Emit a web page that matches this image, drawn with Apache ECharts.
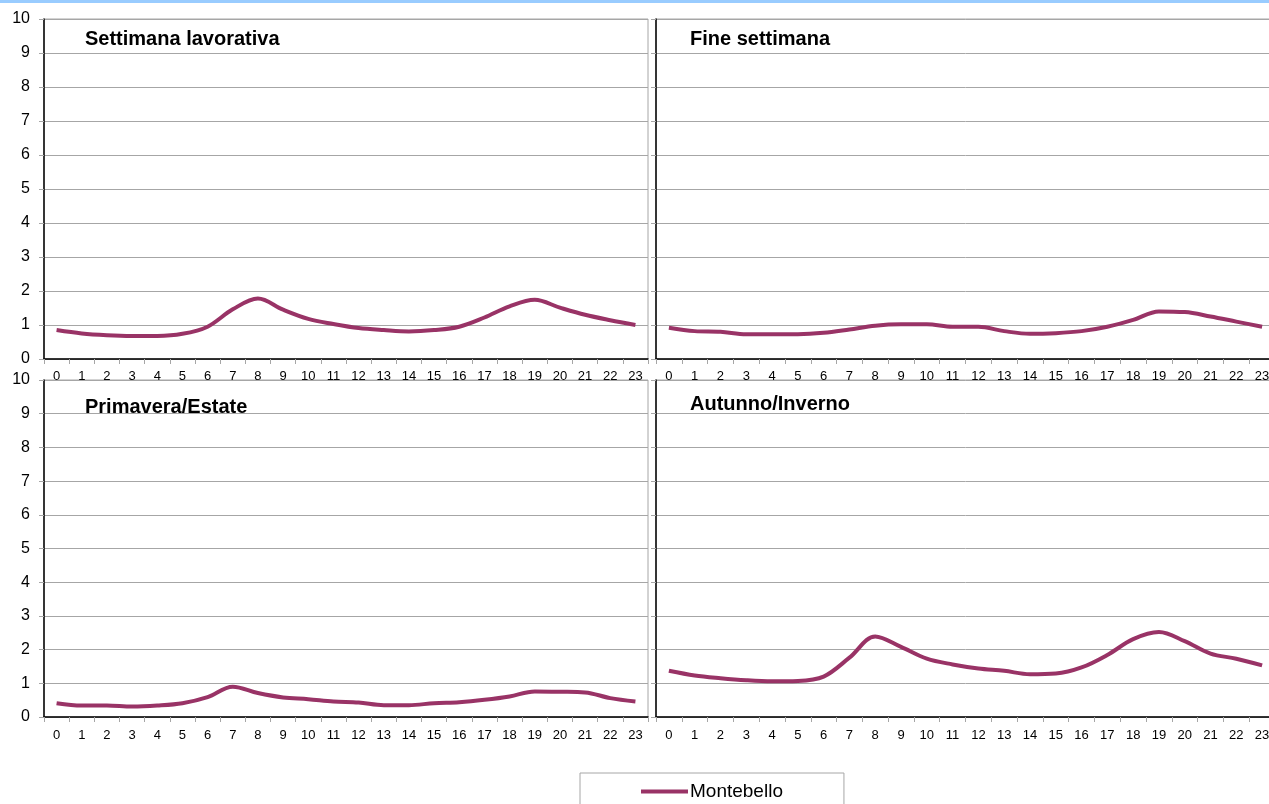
<!DOCTYPE html>
<html>
<head>
<meta charset="utf-8">
<script src="https://cdn.jsdelivr.net/npm/echarts@6/dist/echarts.min.js"></script>
<style>
html,body{margin:0;padding:0;background:#fff;overflow:hidden;width:1269px;height:804px;}
#c{width:1276px;height:804px;}
</style>
</head>
<body>
<div id="c"></div>
<script>
const hours = ['0','1','2','3','4','5','6','7','8','9','10','11','12','13','14','15','16','17','18','19','20','21','22','23'];
const yTicks = [0,1,2,3,4,5,6,7,8,9,10];
const seriesName = 'Montebello';
const panelTitles = ['Settimana lavorativa','Fine settimana','Primavera/Estate','Autunno/Inverno'];
const weekday = [0.85,0.75,0.70,0.68,0.68,0.74,0.95,1.46,1.78,1.45,1.18,1.03,0.91,0.85,0.81,0.85,0.95,1.22,1.55,1.74,1.51,1.30,1.14,1.00];
const weekend = [0.92,0.82,0.80,0.73,0.73,0.73,0.77,0.87,0.98,1.02,1.02,0.95,0.95,0.82,0.74,0.76,0.82,0.95,1.15,1.40,1.38,1.25,1.10,0.95];
const springSummer = [0.41,0.34,0.34,0.31,0.34,0.41,0.59,0.90,0.71,0.58,0.53,0.46,0.43,0.35,0.35,0.41,0.44,0.51,0.61,0.76,0.75,0.73,0.56,0.46];
const autumnWinter = [1.37,1.23,1.15,1.09,1.06,1.07,1.20,1.76,2.39,2.08,1.73,1.56,1.44,1.37,1.27,1.29,1.47,1.84,2.31,2.52,2.25,1.88,1.73,1.53];
const panelData = [weekday, weekend, springSummer, autumnWinter];

const grids = [
  {left:44, top:19, width:604, height:340},
  {left:656, top:19, width:619, height:340},
  {left:44, top:380, width:604, height:337},
  {left:656, top:380, width:619, height:337}
];
const titlePos = [[85,29],[690,29],[85,397],[690,394]];
const sans = "'Liberation Sans',Arial,sans-serif";
const lineColor = '#993366';

const option = {
  animation:false,
  backgroundColor:'#ffffff',
  grid: grids.map(g => Object.assign({show:true, borderColor:'#a6a6a6', borderWidth:1, containLabel:false}, g)),
  title: panelTitles.map((t,i)=>({text:t, left:titlePos[i][0], top:titlePos[i][1], padding:0,
    textStyle:{fontFamily:sans, fontWeight:'bold', fontSize:20, color:'#000'}})),
  legend:{
    data:[seriesName], left:580, top:773, orient:'horizontal',
    padding:[9,61,20,61], borderColor:'#a6a6a6', borderWidth:1, borderRadius:0,
    itemWidth:47, itemHeight:10, itemGap:0,
    textStyle:{fontFamily:sans, fontSize:19, color:'#000', padding:[0,0,0,-3]},
    icon:'path://M0,3 L47,3 L47,7 L0,7 Z'
  },
  xAxis: grids.map((g,i)=>({
    type:'category', gridIndex:i, data:hours, boundaryGap:true,
    axisLine:{show:true, lineStyle:{color:'#000', width:1.5}},
    axisTick:{show:true, alignWithLabel:false, length:5, lineStyle:{color:'#a6a6a6'}},
    axisLabel:{interval:0, margin:(i<2?11:12), fontFamily:sans, fontSize:13, color:'#000'},
    splitLine:{show:false}
  })),
  yAxis: grids.map((g,i)=>({
    type:'value', gridIndex:i, min:yTicks[0], max:yTicks[yTicks.length-1], interval:1,
    axisLine:{show:true, lineStyle:{color:'#000', width:1.5}},
    axisTick:{show:true, length:5, lineStyle:{color:'#a6a6a6'}},
    axisLabel:{show:(i%2===0), margin:14, fontFamily:sans, fontSize:16, color:'#000'},
    splitLine:{show:true, lineStyle:{color:'#a6a6a6', width:1}}
  })),
  series: panelData.map((d,i)=>({
    name:seriesName, type:'line', xAxisIndex:i, yAxisIndex:i, data:d,
    smooth:0.35, symbol:'none', lineStyle:{color:lineColor, width:4}, itemStyle:{color:lineColor},
    z:5
  })),
  graphic:[{type:'rect', left:0, top:0, shape:{width:1276, height:3}, style:{fill:'#99ccff'}, silent:true}]
};
const chart = echarts.init(document.getElementById('c'), null, {renderer:'canvas'});
chart.setOption(option);
</script>
</body>
</html>
